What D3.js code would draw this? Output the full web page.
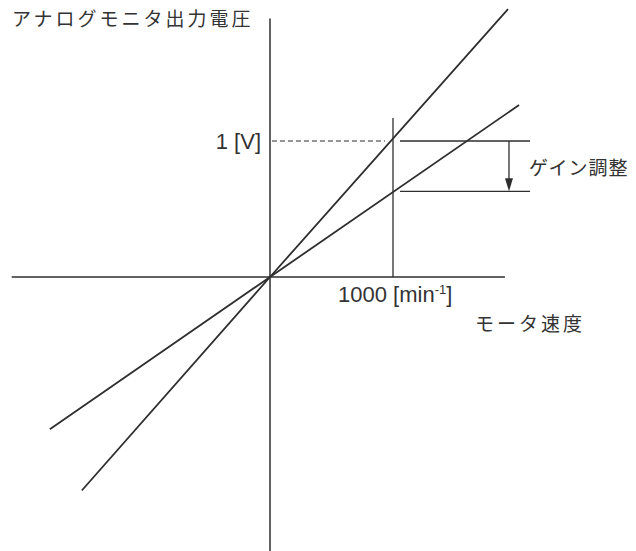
<!DOCTYPE html>
<html>
<head>
<meta charset="utf-8">
<script src="https://cdn.jsdelivr.net/npm/d3@7/dist/d3.min.js"></script>
<style>
  body { margin: 0; background: #fff; }
  text { fill: #333; }
  .jp { font-family: "Noto Sans CJK JP", sans-serif; font-size: 19px; letter-spacing: 3px; }
  .lat { font-family: "Liberation Sans", Arial, sans-serif; font-size: 22px; }
</style>
</head>
<body>
<div id="chart"></div>
<script>
// axis extents, in min^-1 and V
var speedExtent = [-2100, 1910];
var voltExtent = [-2.02, 1.9];

// before / after gain adjustment: [speed, volt]
var lineBefore = [[-1530, -1.57], [0, 0], [1935, 1.97]];
var lineAfter = [[-1790, -1.12], [0, 0], [2025, 1.265]];

var refSpeed = 1000;
var refVolt = 1;
var adjustedVolt = 0.63;

var yLabel = "アナログモニタ出力電圧";
var xLabel = "モータ速度";
var gainLabel = "ゲイン調整";

var width = 636, height = 551;

var x = d3.scaleLinear().domain([0, 1000]).range([270, 393]);
var y = d3.scaleLinear().domain([0, 1]).range([277, 141]);

var svg = d3.select("#chart").append("svg")
    .attr("width", width)
    .attr("height", height);

var ink = "#2e2e2e";

var line = d3.line()
    .x(function(d) { return x(d[0]); })
    .y(function(d) { return y(d[1]); });

// axes
svg.append("line")
    .attr("x1", x(speedExtent[0])).attr("x2", x(speedExtent[1]))
    .attr("y1", y(0)).attr("y2", y(0))
    .attr("stroke", ink).attr("stroke-width", 1.5);
svg.append("line")
    .attr("x1", x(0)).attr("x2", x(0))
    .attr("y1", y(voltExtent[0])).attr("y2", y(voltExtent[1]))
    .attr("stroke", ink).attr("stroke-width", 1.5);

// 1000 min-1 guide
svg.append("line")
    .attr("x1", x(refSpeed)).attr("x2", x(refSpeed))
    .attr("y1", y(0)).attr("y2", y(1.17))
    .attr("stroke", ink).attr("stroke-width", 1.3);

// 1 V dashed guide
svg.append("line")
    .attr("x1", x(16)).attr("x2", x(935))
    .attr("y1", y(refVolt)).attr("y2", y(refVolt))
    .attr("stroke", ink).attr("stroke-width", 1.1)
    .attr("stroke-dasharray", "5,3");

// the two characteristic lines
[lineBefore, lineAfter].forEach(function(d) {
    svg.append("path")
        .attr("d", line(d))
        .attr("fill", "none")
        .attr("stroke", ink)
        .attr("stroke-width", 1.8);
});

// gain bracket
[refVolt, adjustedVolt].forEach(function(v) {
    svg.append("line")
        .attr("x1", x(1057)).attr("x2", x(2114))
        .attr("y1", y(v)).attr("y2", y(v))
        .attr("stroke", ink).attr("stroke-width", 1.3);
});
var ax = x(1943);
svg.append("line")
    .attr("x1", ax).attr("x2", ax)
    .attr("y1", y(refVolt)).attr("y2", y(adjustedVolt) - 10)
    .attr("stroke", ink).attr("stroke-width", 1.3);
svg.append("path")
    .attr("d", "M" + (ax - 4) + "," + (y(adjustedVolt) - 13) +
               "L" + (ax + 4) + "," + (y(adjustedVolt) - 13) +
               "L" + ax + "," + y(adjustedVolt) + "Z")
    .attr("fill", ink);

// labels
svg.append("text").attr("class", "jp")
    .attr("x", 12).attr("y", 26)
    .text(yLabel);

svg.append("text").attr("class", "lat")
    .attr("x", 261).attr("y", y(refVolt) + 8)
    .attr("text-anchor", "end")
    .text(refVolt + " [V]");

var t = svg.append("text").attr("class", "lat")
    .attr("x", 338).attr("y", 302);
t.append("tspan").text(refSpeed + " [min");
t.append("tspan").attr("dy", -8).attr("font-size", 13).text("-1");
t.append("tspan").attr("dy", 8).text("]");

svg.append("text").attr("class", "jp")
    .attr("x", 475).attr("y", 331)
    .text(xLabel);

svg.append("text").attr("class", "jp")
    .attr("x", 529).attr("y", 175)
    .style("letter-spacing", "1px")
    .text(gainLabel);
</script>
</body>
</html>
